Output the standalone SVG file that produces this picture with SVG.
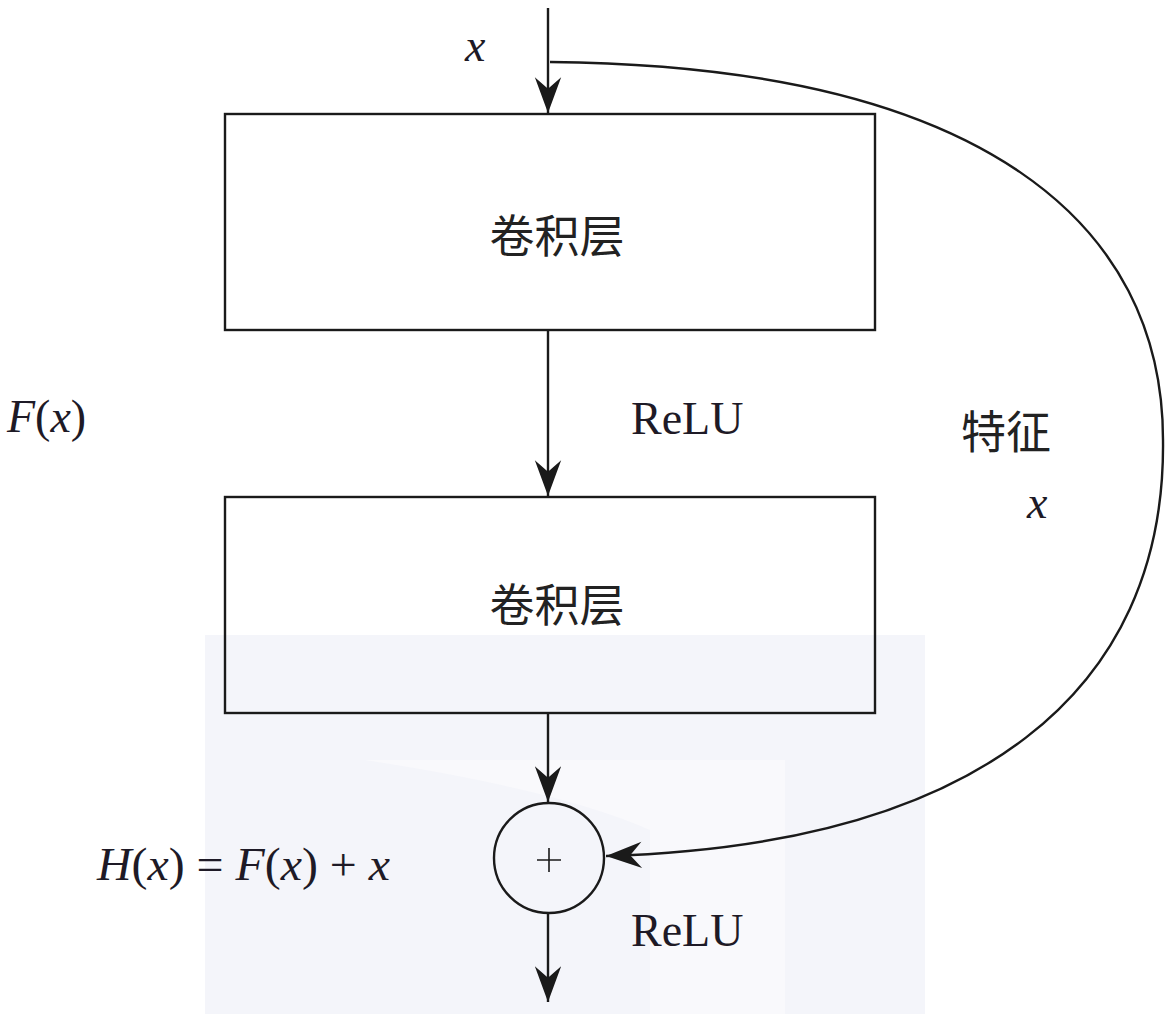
<svg xmlns="http://www.w3.org/2000/svg" width="1170" height="1014" viewBox="0 0 1170 1014">
<style>
.ln{fill:none;stroke:#1a1a1a;stroke-width:2.4}
.box{fill:none;stroke:#1a1a1a;stroke-width:2.4}
.cjk{font-family:"Noto Sans CJK SC","Noto Sans CJK JP",sans-serif;font-size:45px;fill:#222}
.math{font-family:"Liberation Serif","Times New Roman",serif;font-size:46px;fill:#1e1a26}
.it{font-style:italic}
</style>
<defs>
<marker id="ah" markerUnits="userSpaceOnUse" markerWidth="40" markerHeight="30" viewBox="-36 -14 38 28" refX="0" refY="0" orient="auto">
<path d="M0,0 L-34,-12.5 L-23,0 L-34,12.5 Z" fill="#1a1a1a"/>
</marker>
</defs>
<rect width="1170" height="1014" fill="#ffffff"/>
<g id="watermark">
<rect x="205" y="635" width="720" height="379" fill="#f4f5fa"/>
<path d="M365,760 L785,760 L785,1014 L650,1014 L650,830 Q560,790 365,760 Z" fill="#f9f9fc"/>
</g>
<g id="connectors">
<line class="ln" x1="548" y1="8" x2="548" y2="113" marker-end="url(#ah)"/>
<line class="ln" x1="548" y1="330" x2="548" y2="496" marker-end="url(#ah)"/>
<line class="ln" x1="548" y1="713" x2="548" y2="802" marker-end="url(#ah)"/>
<line class="ln" x1="548" y1="913" x2="548" y2="1002" marker-end="url(#ah)"/>
<path class="ln" d="M550,62 C985,66 1163,225 1163,440 C1166,690 980,845 606,856" marker-end="url(#ah)"/>
</g>
<g id="conv1">
<rect class="box" x="225" y="114" width="650" height="216"/>
<text class="cjk" x="557" y="253" text-anchor="middle">卷积层</text>
</g>
<g id="conv2">
<rect class="box" x="225" y="497" width="650" height="216"/>
<text class="cjk" x="557" y="622" text-anchor="middle">卷积层</text>
</g>
<g id="add">
<circle class="ln" cx="549" cy="858" r="55"/>
<path d="M537,860 H561 M549,848 V872" stroke="#1a1a1a" stroke-width="1.6" fill="none"/>
</g>
<g id="labels">
<text class="math it" x="465" y="61">x</text>
<text class="math" x="7" y="432"><tspan class="it">F</tspan>(<tspan class="it">x</tspan>)</text>
<text class="math" x="631" y="434">ReLU</text>
<text class="cjk" x="961" y="449">特征</text>
<text class="math it" x="1027" y="518">x</text>
<text class="math" x="97" y="880" textLength="293" lengthAdjust="spacingAndGlyphs"><tspan class="it">H</tspan>(<tspan class="it">x</tspan>) = <tspan class="it">F</tspan>(<tspan class="it">x</tspan>) + <tspan class="it">x</tspan></text>
<text class="math" x="631" y="946">ReLU</text>
</g>
</svg>
